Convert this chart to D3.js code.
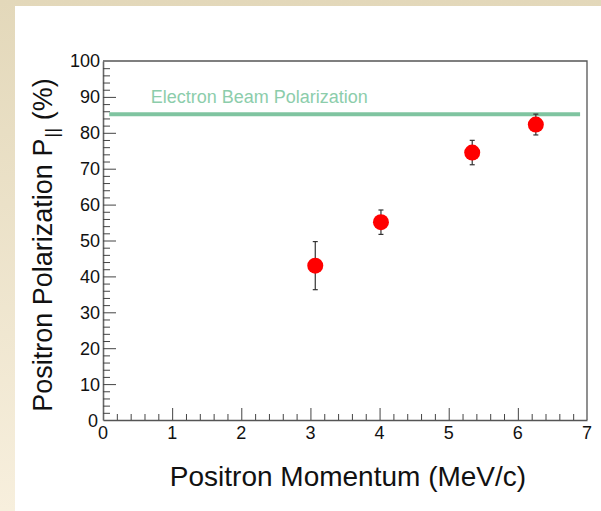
<!DOCTYPE html>
<html>
<head>
<meta charset="utf-8">
<script src="https://cdn.jsdelivr.net/npm/d3@7"></script>
<style>
  html, body { margin: 0; padding: 0; }
  body { width: 601px; height: 511px; overflow: hidden; }
  svg { display: block; }
</style>
</head>
<body>
<svg id="chart" width="601" height="511"></svg>
<script>
// Measured positron polarization vs. momentum
const momentum = [3.07, 4.02, 5.34, 6.26];          // MeV/c
const polarization = [43.0, 55.1, 74.5, 82.3];      // %
const polarizationErr = [6.7, 3.4, 3.4, 2.9];       // %

// Reference level: electron beam polarization
const beamPolarization = 85.2;
const beamSpan = [0.09, 6.9];
const beamLabel = "Electron Beam Polarization";
const beamLabelPos = [0.69, 88.3];

const xTicks = [0, 1, 2, 3, 4, 5, 6, 7];
const yTicks = [0, 10, 20, 30, 40, 50, 60, 70, 80, 90, 100];
const xTitle = "Positron Momentum (MeV/c)";

const FONT = "'Liberation Sans', Arial, Helvetica, sans-serif";
const svg = d3.select("#chart");

// Page background and white panel
const defs = svg.append("defs");
const grad = defs.append("linearGradient").attr("id", "bg")
  .attr("x1", 0).attr("y1", 0).attr("x2", 0).attr("y2", 1);
grad.append("stop").attr("offset", "0%").attr("stop-color", "#e3d8ba");
grad.append("stop").attr("offset", "100%").attr("stop-color", "#f7efdd");
svg.append("rect").attr("width", 601).attr("height", 511).attr("fill", "url(#bg)");
svg.append("rect").attr("x", 15).attr("y", 6).attr("width", 586).attr("height", 505).attr("fill", "#ffffff");

const frame = { left: 103, right: 587, top: 61, bottom: 420 };
const x = d3.scaleLinear().domain([0, 7]).range([frame.left, frame.right]);
const y = d3.scaleLinear().domain([0, 100]).range([frame.bottom, frame.top]);

// Frame (top and right edges)
svg.append("path")
  .attr("d", `M${frame.left},${frame.top}H${frame.right}V${frame.bottom}`)
  .attr("fill", "none").attr("stroke", "#555").attr("stroke-width", 1.3);

// Left axis: inward ticks, labels outside
const yAxis = d3.axisRight(y)
  .tickValues(d3.range(0, 100.01, 2))
  .tickSizeOuter(0)
  .tickFormat("");
const yg = svg.append("g").attr("transform", `translate(${frame.left},0)`).call(yAxis);
yg.select(".domain").attr("stroke", "#666").attr("stroke-width", 1.6);
yg.selectAll(".tick line")
  .attr("x2", d => (Math.round(d) % 10 === 0 ? 13 : 7))
  .attr("stroke", "#444").attr("stroke-width", 1);
yg.selectAll(".tick").filter(d => d === 0 || d === 100).select("line").attr("x2", 0);

svg.append("g").selectAll("text").data(yTicks).join("text")
  .attr("x", d => (d === 0 ? frame.left - 5 : frame.left - 3))
  .attr("y", d => y(d) + (d === 0 ? 1 : 0))
  .attr("dy", "0.36em")
  .attr("text-anchor", "end")
  .attr("font-family", FONT).attr("font-size", 18).attr("fill", "#111")
  .text(d => d);

// Bottom axis: inward ticks, labels below
const xAxis = d3.axisTop(x)
  .tickValues(d3.range(0, 7.001, 0.2))
  .tickSizeOuter(0)
  .tickFormat("");
const xg = svg.append("g").attr("transform", `translate(0,${frame.bottom})`).call(xAxis);
xg.select(".domain").attr("stroke", "#555").attr("stroke-width", 1.4);
xg.selectAll(".tick line")
  .attr("y2", d => (Math.abs(d - Math.round(d)) < 1e-6 ? -12 : -6))
  .attr("stroke", "#444").attr("stroke-width", 1);
xg.selectAll(".tick").filter(d => d < 1e-6 || d > 6.999).select("line").attr("y2", 0);

svg.append("g").selectAll("text").data(xTicks).join("text")
  .attr("x", d => x(d))
  .attr("y", frame.bottom + 19)
  .attr("text-anchor", "middle")
  .attr("font-family", FONT).attr("font-size", 18).attr("fill", "#111")
  .text(d => d);

// Axis titles
svg.append("text")
  .attr("x", 348).attr("y", 486)
  .attr("text-anchor", "middle")
  .attr("font-family", FONT).attr("font-size", 28).attr("fill", "#111")
  .text(xTitle);

const yt = svg.append("text")
  .attr("transform", "translate(52,245) rotate(-90)")
  .attr("text-anchor", "middle")
  .attr("font-family", FONT).attr("font-size", 27).attr("fill", "#111");
yt.append("tspan").text("Positron Polarization P");
yt.append("tspan").attr("dy", 6).attr("font-size", 19).attr("dx", 1).text("||");
yt.append("tspan").attr("dy", -6).text(" (%)");

// Beam polarization reference line and label
svg.append("line")
  .attr("x1", x(beamSpan[0])).attr("x2", x(beamSpan[1]))
  .attr("y1", y(beamPolarization)).attr("y2", y(beamPolarization))
  .attr("stroke", "#7fc4a0").attr("stroke-width", 4);
svg.append("text")
  .attr("x", x(beamLabelPos[0])).attr("y", y(beamLabelPos[1]))
  .attr("font-family", FONT).attr("font-size", 18).attr("fill", "#8ccdab")
  .text(beamLabel);

// Data points with error bars
const pts = d3.range(momentum.length).map(i => ({
  x: momentum[i], y: polarization[i], e: polarizationErr[i]
}));
const g = svg.append("g");
g.selectAll("line.err").data(pts).join("line").attr("class", "err")
  .attr("x1", d => x(d.x)).attr("x2", d => x(d.x))
  .attr("y1", d => y(d.y + d.e)).attr("y2", d => y(d.y - d.e))
  .attr("stroke", "#333").attr("stroke-width", 1.2);
g.selectAll("line.capHi").data(pts).join("line").attr("class", "capHi")
  .attr("x1", d => x(d.x) - 2.5).attr("x2", d => x(d.x) + 2.5)
  .attr("y1", d => y(d.y + d.e)).attr("y2", d => y(d.y + d.e))
  .attr("stroke", "#333").attr("stroke-width", 1.2);
g.selectAll("line.capLo").data(pts).join("line").attr("class", "capLo")
  .attr("x1", d => x(d.x) - 2.5).attr("x2", d => x(d.x) + 2.5)
  .attr("y1", d => y(d.y - d.e)).attr("y2", d => y(d.y - d.e))
  .attr("stroke", "#333").attr("stroke-width", 1.2);
g.selectAll("circle").data(pts).join("circle")
  .attr("cx", d => x(d.x)).attr("cy", d => y(d.y))
  .attr("r", 8).attr("fill", "#ff0000");
</script>
</body>
</html>
